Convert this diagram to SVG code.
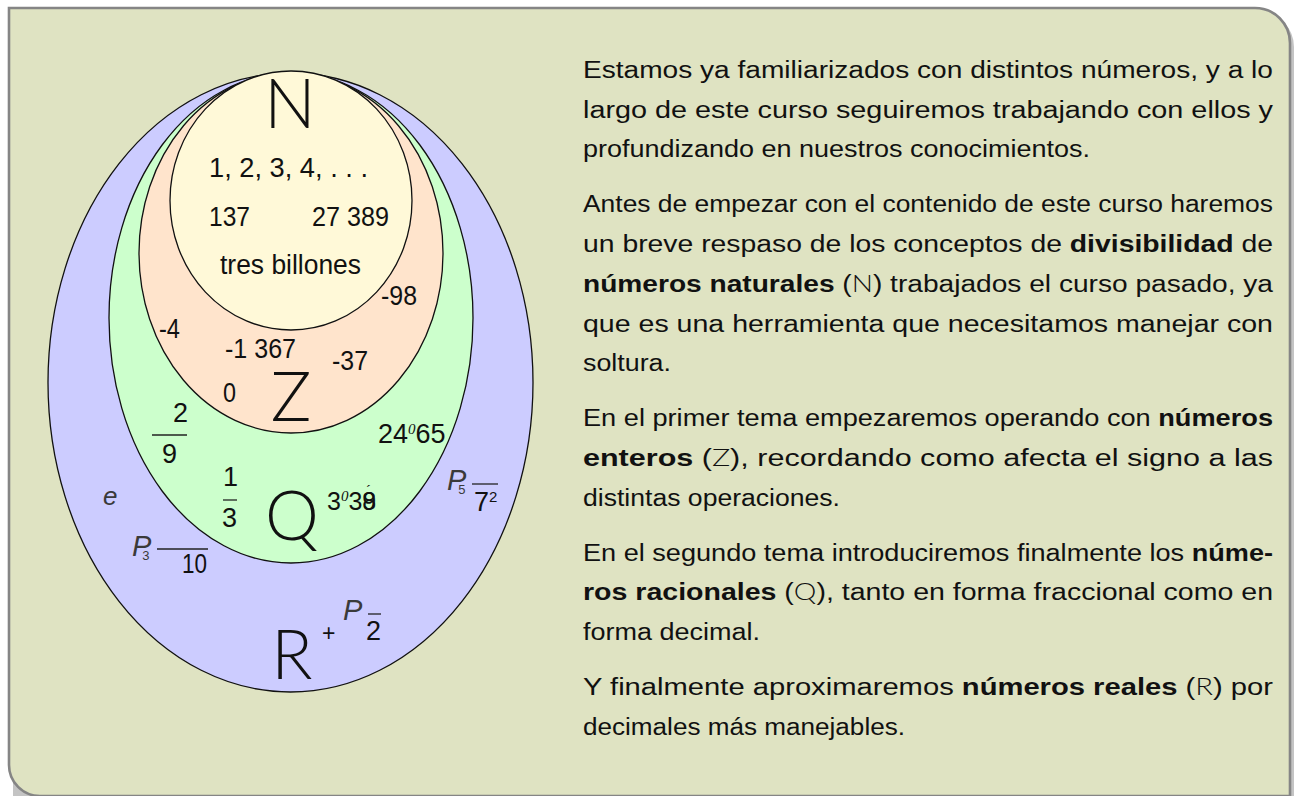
<svg xmlns="http://www.w3.org/2000/svg" width="1298" height="796" viewBox="0 0 1298 796">
<style>
.txt{font-family:"Liberation Sans","DejaVu Sans",sans-serif;font-size:23.5px;fill:#111}
.b{font-weight:bold}
.lt{font-family:Lato,"Open Sans","Liberation Sans",sans-serif;font-weight:300}
.num{font-family:"Liberation Sans","DejaVu Sans",sans-serif;font-size:27px;fill:#111}
.big{font-family:Lato,"Open Sans","Liberation Sans",sans-serif;font-weight:300;font-size:68px;fill:#111;text-anchor:middle}
.it{font-family:"Liberation Sans","DejaVu Sans",sans-serif;font-style:italic;font-size:29px;fill:#3a3a3a}
.sm{font-style:normal;font-size:13px}
.sup{font-family:"Liberation Serif",serif;font-style:italic;font-size:15px}
.frac{stroke:#222;stroke-width:1.3}
.ell{stroke:#111;stroke-width:1.3}
</style>
<rect x="0" y="0" width="1298" height="796" fill="#ffffff"/>
<g id="panel">
<path d="M13 12 H1259 A35 35 0 0 1 1294 47 V800 H13 Z" fill="#c4c4c4"/>
<path d="M9 8 H1255 A35 35 0 0 1 1290 43 V796 H40 A31 31 0 0 1 9 765 Z" fill="#dfe3c2" stroke="#858585" stroke-width="2.6"/>
</g>
<g id="sets">
<g id="setR"><ellipse class="ell" cx="290.5" cy="382.5" rx="242.5" ry="309.5" fill="#ccccff"/></g>
<g id="setQ"><ellipse class="ell" cx="291" cy="318" rx="182" ry="245" fill="#ccffcc"/></g>
<g id="setZ"><ellipse class="ell" cx="291" cy="253" rx="152" ry="180" fill="#ffe4cc"/></g>
<g id="setN"><ellipse class="ell" cx="291" cy="200.5" rx="121" ry="129.5" fill="#fff9d8"/></g>
</g>
<g id="labels">
<text class="big" x="290" y="128">N</text>
<text class="big" x="291" y="421">Z</text>
<text class="big" x="292" y="540">Q</text>
<text class="big" x="292" y="679">R</text>
</g>
<g id="elements">
<text class="num" x="209" y="177" textLength="159" lengthAdjust="spacingAndGlyphs">1, 2, 3, 4, . . .</text>
<text class="num" x="209" y="226" textLength="41" lengthAdjust="spacingAndGlyphs">137</text>
<text class="num" x="312" y="226" textLength="77" lengthAdjust="spacingAndGlyphs">27 389</text>
<text class="num" x="220" y="274" textLength="141" lengthAdjust="spacingAndGlyphs">tres billones</text>
<text class="num" x="381" y="305" textLength="36" lengthAdjust="spacingAndGlyphs">-98</text>
<text class="num" x="159" y="338" textLength="21" lengthAdjust="spacingAndGlyphs">-4</text>
<text class="num" x="225" y="358" textLength="71" lengthAdjust="spacingAndGlyphs">-1 367</text>
<text class="num" x="332" y="370" textLength="36" lengthAdjust="spacingAndGlyphs">-37</text>
<text class="num" x="223" y="402" textLength="13" lengthAdjust="spacingAndGlyphs">0</text>
<text class="num" x="173" y="422">2</text>
<line class="frac" x1="152" y1="435" x2="187" y2="435"/>
<text class="num" x="162" y="463">9</text>
<text class="num" x="223" y="486">1</text>
<line class="frac" x1="223" y1="500" x2="237" y2="500"/>
<text class="num" x="222" y="527">3</text>
<text class="num" x="378" y="443">24<tspan class="sup" dy="-9">0</tspan><tspan dy="9">65</tspan></text>
<text class="num" x="327" y="510" style="font-size:25px">3<tspan class="sup" dy="-9">0</tspan><tspan dy="9">38</tspan><tspan dx="-13.9">9</tspan><tspan dx="-10" dy="-14" style="font-size:15px">´</tspan></text>
<text class="it" x="103" y="505" style="font-size:26px">e</text>
<text class="it" x="132" y="556">P<tspan class="sm" dx="-9" dy="4">3</tspan></text>
<line class="frac" x1="157" y1="549" x2="208" y2="549"/>
<text class="num" x="182" y="573" textLength="25" lengthAdjust="spacingAndGlyphs">10</text>
<text class="it" x="447" y="490">P<tspan class="sm" dx="-8" dy="4">5</tspan></text>
<line class="frac" x1="472" y1="484" x2="498" y2="484"/>
<text class="num" x="474" y="511">7<tspan dy="-9" style="font-size:15px">2</tspan></text>
<text class="num" x="322" y="641" style="font-size:23px">+</text>
<text class="it" x="343" y="620">P</text>
<line class="frac" x1="368" y1="614" x2="381" y2="614"/>
<text class="num" x="366" y="640">2</text>
</g>
<g id="text">
<text class="txt" x="583" y="78" textLength="690" lengthAdjust="spacingAndGlyphs">Estamos ya familiarizados con distintos números, y a lo</text>
<text class="txt" x="583" y="118" textLength="690" lengthAdjust="spacingAndGlyphs">largo de este curso seguiremos trabajando con ellos y</text>
<text class="txt" x="583" y="157" textLength="507" lengthAdjust="spacingAndGlyphs">profundizando en nuestros conocimientos.</text>
<text class="txt" x="583" y="212" textLength="690" lengthAdjust="spacingAndGlyphs">Antes de empezar con el contenido de este curso haremos</text>
<text class="txt" x="583" y="252" textLength="690" lengthAdjust="spacingAndGlyphs">un breve respaso de los conceptos de <tspan class="b">divisibilidad</tspan> de</text>
<text class="txt" x="583" y="292" textLength="690" lengthAdjust="spacingAndGlyphs"><tspan class="b">números naturales</tspan> (<tspan class="lt">N</tspan>) trabajados el curso pasado, ya</text>
<text class="txt" x="583" y="332" textLength="690" lengthAdjust="spacingAndGlyphs">que es una herramienta que necesitamos manejar con</text>
<text class="txt" x="583" y="371" textLength="88" lengthAdjust="spacingAndGlyphs">soltura.</text>
<text class="txt" x="583" y="426" textLength="690" lengthAdjust="spacingAndGlyphs">En el primer tema empezaremos operando con <tspan class="b">números</tspan></text>
<text class="txt" x="583" y="466" textLength="690" lengthAdjust="spacingAndGlyphs"><tspan class="b">enteros</tspan> (<tspan class="lt">Z</tspan>), recordando como afecta el signo a las</text>
<text class="txt" x="583" y="506" textLength="257" lengthAdjust="spacingAndGlyphs">distintas operaciones.</text>
<text class="txt" x="583" y="561" textLength="690" lengthAdjust="spacingAndGlyphs">En el segundo tema introduciremos finalmente los <tspan class="b">núme-</tspan></text>
<text class="txt" x="583" y="600" textLength="690" lengthAdjust="spacingAndGlyphs"><tspan class="b">ros racionales</tspan> (<tspan class="lt">Q</tspan>), tanto en forma fraccional como en</text>
<text class="txt" x="583" y="640" textLength="177" lengthAdjust="spacingAndGlyphs">forma decimal.</text>
<text class="txt" x="583" y="695" textLength="690" lengthAdjust="spacingAndGlyphs">Y finalmente aproximaremos <tspan class="b">números reales</tspan> (<tspan class="lt">R</tspan>) por</text>
<text class="txt" x="583" y="735" textLength="322" lengthAdjust="spacingAndGlyphs">decimales más manejables.</text>
</g>
</svg>
